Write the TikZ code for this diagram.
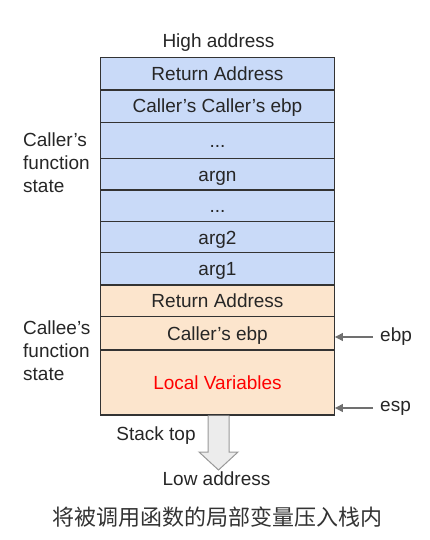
\documentclass[tikz,border=0pt]{standalone}
\usepackage{fontspec}
\setmainfont{Liberation Sans}
\newfontfamily\cjkfont{Noto Sans CJK SC}
\usetikzlibrary{arrows.meta}

\definecolor{callerblue}{HTML}{C9DAF8}
\definecolor{calleeorange}{HTML}{FCE5CD}
\definecolor{framegray}{HTML}{333333}
\definecolor{ptrgray}{HTML}{707070}

\tikzset{
	cell/.style={draw=framegray, line width=1.3pt, minimum width=233.6pt, inner sep=0pt,
		text height=13.6pt, text depth=0pt, font=\fontsize{19}{22}\selectfont, text=black!85},
	caller/.style={cell, fill=callerblue},
	callee/.style={cell, fill=calleeorange},
	lbl/.style={font=\fontsize{19}{23}\selectfont, inner sep=0pt, text=black!85},
	ptr/.style={draw=ptrgray, line width=1.3pt, -{Triangle[length=8pt,width=8pt]}}
}

\begin{document}
\begin{tikzpicture}[x=1pt, y=-1pt]
					\useasboundingbox (0,0) rectangle (430,540);

					\node[caller, minimum height=32.3pt] (ret1) at (217.5, 73.9) {Return Address};
					\node[caller, minimum height=32.3pt] (cce) at (217.5, 106.2) {Caller’s Caller’s ebp};
					\node[caller, minimum height=36pt] (dots1) at (217.5, 140.3) {...};
					\node[caller, minimum height=31.7pt] (argn) at (217.5, 174.2) {argn};
					\node[caller, minimum height=31.7pt] (dots2) at (217.5, 205.8) {...};
					\node[caller, minimum height=31pt] (arg2) at (217.5, 237.2) {arg2};
					\node[caller, minimum height=32.3pt] (arg1) at (217.5, 268.8) {arg1};

					\node[callee, minimum height=31.7pt] (ret2) at (217.5, 300.8) {Return Address};
					\node[callee, minimum height=33.3pt] (ebp) at (217.5, 333.3) {Caller’s ebp};
					\node[callee,
						minimum height=65pt,
						text=red
					] (local) at (217.5, 382.5) {Local Variables};

					\node[lbl] (high) at (218.5, 42.3) {High address};
					\node[lbl, align=left, anchor=west] (callerst) at (23, 163) {Caller’s\\function\\state};
					\node[lbl, align=left, anchor=west] (calleest) at (23, 351) {Callee’s\\function\\state};

					\node[lbl, anchor=west] (ebplbl) at (380, 337) {ebp};
					\node[lbl, anchor=west] (esplbl) at (380, 408) {esp};
					\draw[ptr] ([xshift=-7pt]ebplbl.west) -- (ebplbl.west -| ebp.east);
					\draw[ptr] ([xshift=-7pt]esplbl.west) -- (esplbl.west -| local.east);

					% downward stack arrow
					\draw[draw=gray!80, fill=gray!15, line width=1pt, line join=miter]
						(208, 415.6) -- (208, 452) -- (199, 452) -- (218.5, 470)
						-- (238, 452) -- (229, 452) -- (229, 415.6);

					\node[lbl] (stacktop) at (156, 435.5) {Stack top};
					\node[lbl] (low) at (216.5, 479) {Low address};

					\node[font=\cjkfont\fontsize{22}{22}\selectfont, text=black!80, inner sep=0pt] (caption) at (217.5, 517) {将被调用函数的局部变量压入栈内};
				\end{tikzpicture}
\end{document}
